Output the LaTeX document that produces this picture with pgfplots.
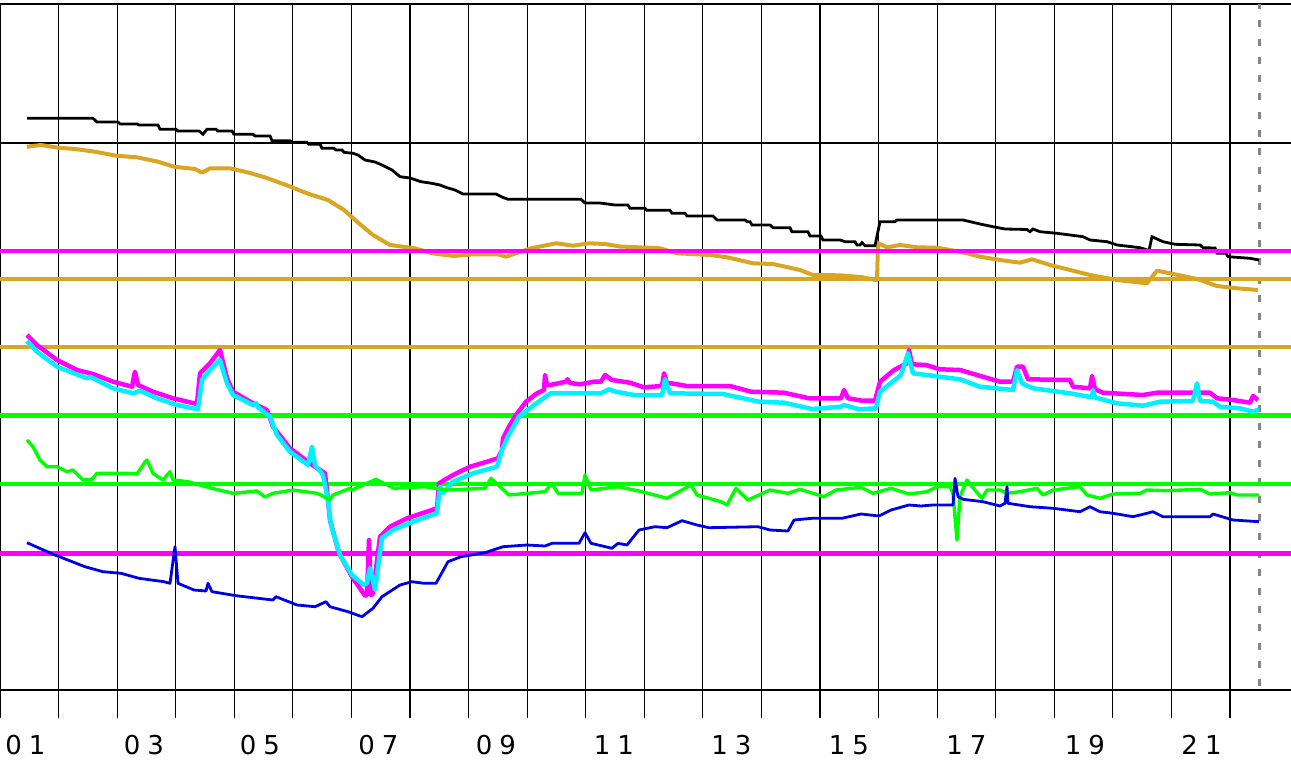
\documentclass[border=0pt]{standalone}
\usepackage{pgfplots}
\pgfplotsset{compat=1.18}
\usepackage{fontspec}
\newfontfamily\lblfont{DejaVu Sans}
\definecolor{gold}{RGB}{218,165,32}
\definecolor{mag}{RGB}{255,0,255}
\definecolor{cyn}{RGB}{0,240,255}
\definecolor{grn}{RGB}{0,255,0}
\definecolor{blu}{RGB}{0,0,230}
\begin{document}
\begin{tikzpicture}
\begin{axis}[
  scale only axis, width=1291pt, height=686pt,
  xmin=0, xmax=1291, ymin=4, ymax=690, y dir=reverse,
  axis line style={draw=none},
  xtick={0.7,58.57,117.14,175.71,234.29,292.86,351.43,410,468.57,527.14,585.71,644.29,702.86,761.43,820,878.57,937.14,995.71,1054.29,1112.86,1171.43,1230},
  xticklabels={}, ytick=\empty,
  xtick pos=left, tick align=outside, major tick length=28pt,
  every tick/.style={black, line width=1.1pt},
  xmajorgrids, major grid style={black, line width=1.1pt},
  clip=false,
]
\coordinate (TL) at (axis cs:0,0);
\coordinate (BR) at (axis cs:1291,760);
% frame lines
\draw[black, line width=1.6pt] (axis cs:0,4) -- (axis cs:1291,4);
\draw[black, line width=1.1pt] (axis cs:0,143) -- (axis cs:1291,143);
\draw[black, line width=2pt] (axis cs:0,690) -- (axis cs:1291,690);
\draw[gray!95, line width=2.4pt, dash pattern=on 7pt off 11.3pt, dash phase=2pt] (axis cs:1259.3,4) -- (axis cs:1259.3,690);

% orange series
\addplot[gold, line width=4pt, line join=round] coordinates {
(27,146.7)(41,145)(58,147.7)(75,149)(95,151.7)(116,155.7)(137,157.3)(158,161.7)(174,166.7)(195,169)(202,172.7)(210,168.3)(230,168.3)(249,172.7)(266,177.7)(286,185)(307,193.3)(328,200)(344,210)(357,221.7)(373,235)(390,245)(415,248.3)(432,253.3)(454,256)(473,254.3)(498,254.3)(506,256.7)(531,248.3)(556,243.3)(573,245.7)(589,243.3)(605,244)(620,246.5)(660,248.3)(677,253.3)(710,255)(727,257.3)(753,263.3)(773,264)(800,270)(813,275)(840,275.3)(863,277.3)(875,280)(877,280)(878,243.3)(887,247.3)(900,245)(917,247.3)(937,247.7)(950,250)(967,253.3)(980,256.7)(1000,260)(1020,262.7)(1032,259.3)(1050,265)(1070,270)(1090,275)(1117,280)(1147,283.3)(1157,270.7)(1170,273.3)(1197,279)(1217,286)(1237,288.3)(1258,290)
};
% black series
\addplot[black, line width=2.8pt] coordinates {
(27,118.3)(93,118.3)(97,122)(118,122)(120,124)(137,124)(139,125)(158,125)(160,129.3)(176,129.3)(178,131)(199,131)(203,134.3)(207,129.3)(216,129.3)(218,131)(232,131)(234,134.3)(253,134.3)(255,136)(270,136)(272,140.7)(290,140.7)(292,142.3)(307,142.3)(309,144.3)(320,144.3)(322,148.3)(334,148.3)(336,150)(342,150)(344,152.3)(353,153.3)(358,155)(365,160)(375,162)(382,165)(392,170)(400,176.7)(410,178)(421,181.7)(430,183)(440,185)(445,187)(448,188)(455,190)(463,194)(496,194)(502,197)(508,199.3)(581,199.3)(585,203)(600,203)(615,205)(628,205)(630,208.3)(645,208.3)(647,210.3)(670,210.3)(672,213.3)(685,213.3)(687,216)(713,216)(717,220)(745,220)(747,221.7)(750,221.7)(752,225)(770,225)(773,227.7)(790,227.7)(792,231.7)(808,231.7)(810,236)(821,236)(823,240)(840,240)(845,241.7)(855,241.7)(857,245)(860,245)(862,242.7)(865,245.7)(875,245.7)(880,221.7)(895,221.7)(897,220)(963,220)(980,224)(993,226.7)(1005,229)(1027,229.5)(1030,231.7)(1033,229)(1040,231.7)(1057,233.3)(1083,236.7)(1090,240)(1107,241.7)(1117,245)(1140,247.7)(1149,250.5)(1152,236.7)(1163,241.7)(1175,244.3)(1200,245)(1203,247.7)(1215,248)(1217,253.3)(1226,253.3)(1228,256.7)(1250,258.3)(1259,260)
};
% threshold lines
\addplot[mag, line width=4.5pt] coordinates {(0,251)(1291,251)};
\addplot[gold, line width=4.5pt] coordinates {(0,279)(1291,279)};
\addplot[gold, line width=4.5pt] coordinates {(0,347)(1291,347)};
\addplot[grn, line width=4.5pt] coordinates {(0,415.5)(1291,415.5)};
\addplot[grn, line width=4.5pt] coordinates {(0,484)(1291,484)};
\addplot[mag, line width=4.5pt] coordinates {(0,553.5)(1291,553.5)};

% magenta series
\addplot[mag, line width=4.5pt, line join=round] coordinates {
(27,335)(37,345)(57,360)(77,370)(93,374)(113,381.7)(132,386.7)(135,371.7)(138,385)(153,391.7)(173,398.3)(197,404)(200,373.3)(210,363.3)(220,350)(227,378.3)(233,391.7)(253,403.3)(267,410)(273,426.7)(290,448.3)(310,463.3)(325,473.3)(328,500)(330,520)(339,553)(352,576.7)(365,595.7)(367,595)(369,540)(371,595)(373,593.3)(380,536.7)(390,526.7)(407,518.3)(437,508.3)(439,483.3)(453,475)(470,466.7)(487,461.7)(498,458.3)(502,450)(503,438.3)(509,426.7)(516,415)(526,401.7)(537,393.3)(544,390)(545,375)(547,385)(550,385)(566,381.7)(567.5,379.3)(570,383)(580,384.3)(594,381.7)(601,381.7)(605,375)(612,380)(630,382.7)(644,387.3)(662,386)(664,373.3)(667,383.3)(671,383.3)(687,386)(730,386)(751,391.7)(784,392.7)(809,398.3)(841,398.3)(844,390)(848,398.3)(862,400.7)(875,400.7)(880,381.7)(894,370)(907,363.3)(909,350)(912,364.3)(926,365)(940,369.3)(960,370)(1000,381.7)(1013,381.7)(1017,366.7)(1023,366.7)(1028,379.3)(1070,380)(1073,386.7)(1090,388.3)(1092,376)(1095,389.3)(1103,392.7)(1143,395)(1157,392.7)(1210,392.7)(1217,398.3)(1233,400)(1250,402.7)(1253,396)(1258,400)
};
% cyan series
\addplot[cyn, line width=4.5pt, line join=round] coordinates {
(27,341)(37,351.7)(57,366.7)(87,378.3)(90,376.7)(113,388.3)(133,393.3)(140,390.7)(157,398.3)(177,405)(198,409.3)(202,380)(210,370)(220,360)(227,383.3)(233,395)(253,405)(256,403)(258,407.3)(270,416.7)(277,435)(290,451.7)(308,465)(312,446.7)(315,465)(323,475)(328,500)(331,525)(340,555)(352,575)(364,585)(367,583)(370,568)(375,590)(382,538)(393,530)(413,521.7)(437,513.3)(440,486.7)(443,493)(453,481.7)(473,473.3)(497,466.7)(502,450)(507,438.3)(519,416.7)(534,405)(548,395)(551,393.3)(601,393.3)(609,389.3)(616,391.7)(634,395)(662,395)(665,379.3)(670,393.3)(723,394)(759,401.7)(784,402.7)(812,409)(841,406.7)(844,405)(859,409.3)(876,408.3)(880,391.7)(901,375)(908,353.3)(913,373.3)(940,376.7)(960,379.3)(980,386.7)(1013,390)(1017,370)(1022,383.3)(1033,388.3)(1070,393.3)(1092,397.3)(1093,390)(1095,397.5)(1117,403.3)(1143,405.7)(1160,401.7)(1193,401)(1197,383.3)(1200,401)(1213,401.7)(1220,406.7)(1240,408.3)(1253,411.7)(1259,409.3)
};
% green series
\addplot[grn, line width=3.4pt, line join=round] coordinates {
(27,440)(33,446.7)(40,460)(47,466.7)(57,466.7)(67,471.7)(73,470)(83,480)(92,479.3)(97,473.3)(127,473.3)(137,474)(145,462)(147,460)(153,473.3)(163,480)(170,471.7)(173,480)(188,481.7)(200,485)(212,488.3)(233,493.3)(257,491)(265,497)(273,493.3)(293,490)(317,493.3)(321,495)(330,500)(333,495)(350,488.3)(352,490)(376,479.3)(394,488.3)(424,486.7)(448,490)(485,488.3)(491,478.3)(509,495)(545,491.7)(552,483.3)(558,493.3)(582,493.3)(585,475)(591,490)(618,486.7)(642,491.7)(667,498.3)(691,485)(697,495)(721,501.7)(727,505)(736,488.3)(748,500)(770,490)(788,493.3)(800,489.3)(824,496.7)(836,490)(861,487.3)(873,493.3)(891,488.3)(909,494)(927,491.7)(937,486.7)(950,486.7)(953,493.3)(957,540)(960,496.7)(967,480)(972,486.7)(982,498.3)(987,490)(1000,490)(1007,493.3)(1020,491.7)(1037,488.3)(1043,495)(1053,490)(1080,486.7)(1087,495)(1100,498.3)(1113,494)(1140,493.3)(1147,490)(1167,490.7)(1200,489.3)(1210,494)(1230,492.7)(1237,495)(1259,495)
};
% blue series
\addplot[blu, line width=2.8pt, line join=round] coordinates {
(27,542.7)(36,546.7)(55,555)(85,566.7)(103,571.7)(121,573.3)(139,578.3)(164,581.7)(170,583.3)(175,546.7)(178,583.3)(194,590)(206,591)(208,583.3)(212,591.7)(236,595.7)(273,600)(276,596.7)(297,605)(315,606.7)(326,601.7)(330,606.7)(348,611.7)(362,616.7)(373,608.3)(382,596.7)(400,585)(412,581.7)(424,583.3)(436,583.3)(448,561.7)(461,556.7)(485,552.7)(503,546.7)(527,545)(545,546)(552,543.3)(579,543.3)(585,532.7)(591,543.3)(612,548.3)(618,543.3)(627,545)(639,530)(655,526.7)(667,527.7)(682,520.7)(697,525)(709,527.7)(758,526.7)(770,530)(788,531)(794,520)(812,518.3)(842,518.3)(861,514)(879,516)(891,510)(909,505)(921,506)(933,505)(953,505)(955,478.3)(958,496.7)(963,499.3)(983,501.7)(1000,506)(1005,503.3)(1007,486.7)(1008,503.3)(1030,506.7)(1053,508.3)(1080,511.7)(1090,506.7)(1100,511.7)(1113,513.3)(1133,516.7)(1147,513.3)(1153,511.7)(1163,516.7)(1210,516.7)(1213,514)(1233,520)(1259,521.7)
};

% tick labels
\begin{scope}[every node/.style={anchor=base, inner sep=0pt, font=\lblfont\fontsize{26}{30}\selectfont}]
\node at (axis cs:25.5,754) {0\hspace{7pt}1};
\node at (axis cs:144,754) {0\hspace{7pt}3};
\node at (axis cs:260,754) {0\hspace{7pt}5};
\node at (axis cs:378.5,754) {0\hspace{7pt}7};
\node at (axis cs:496,754) {0\hspace{7pt}9};
\node at (axis cs:614,754) {1\hspace{7pt}1};
\node at (axis cs:731.5,754) {1\hspace{7pt}3};
\node at (axis cs:849,754) {1\hspace{7pt}5};
\node at (axis cs:966.5,754) {1\hspace{7pt}7};
\node at (axis cs:1085,754) {1\hspace{7pt}9};
\node at (axis cs:1201.5,754) {2\hspace{7pt}1};
\end{scope}
\end{axis}
\pgfresetboundingbox
\path[use as bounding box] (TL) rectangle (BR);
\end{tikzpicture}
\end{document}
